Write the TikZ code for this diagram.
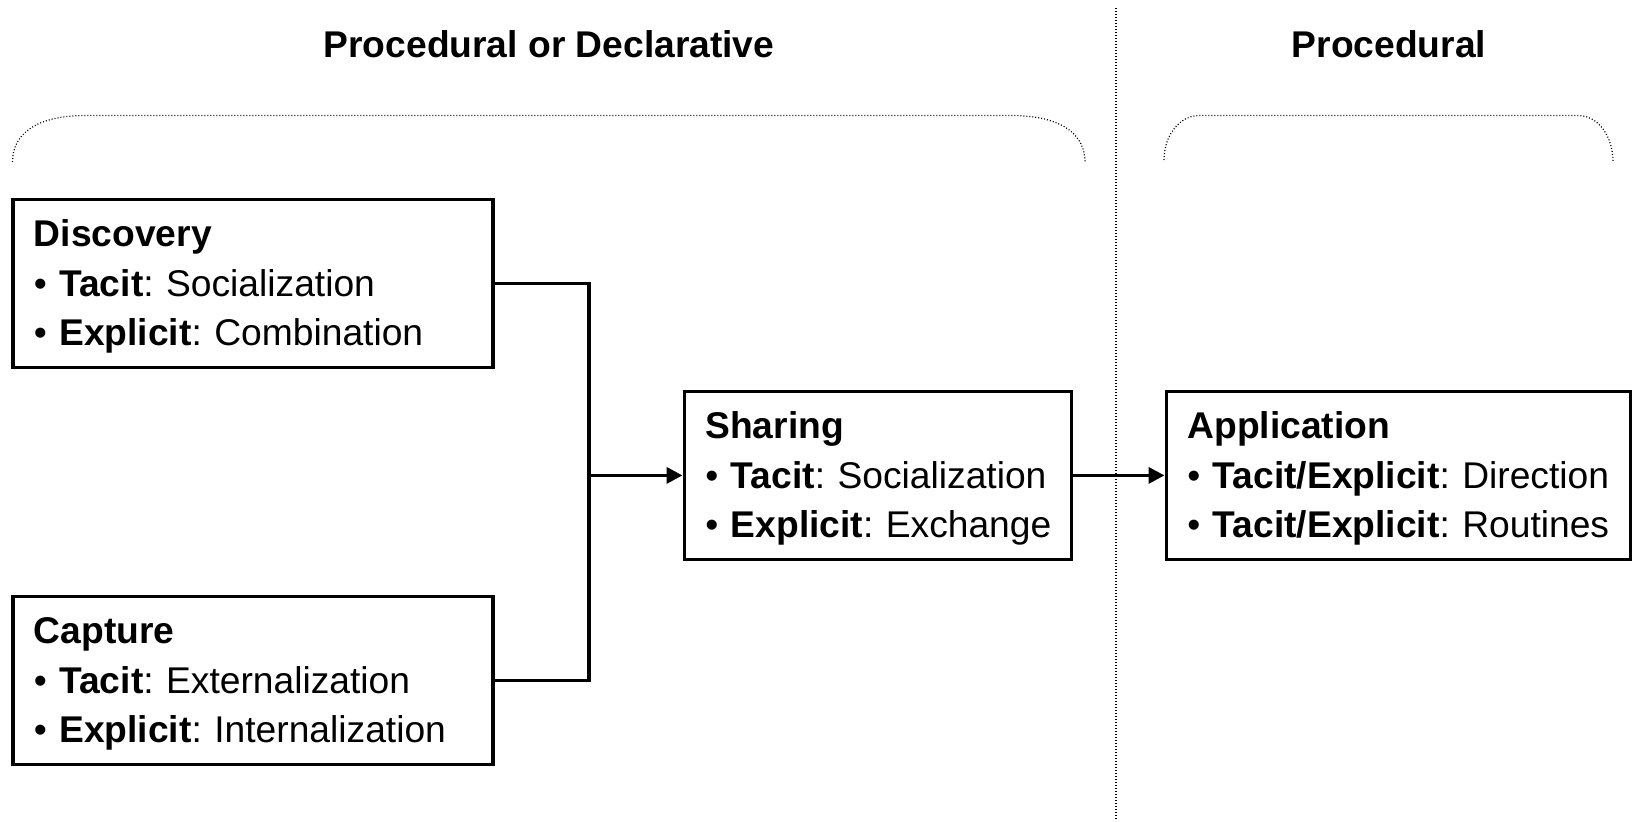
\documentclass[tikz,border=0pt]{standalone}
\usepackage{fontspec}
\setmainfont{Liberation Sans}
\usetikzlibrary{arrows.meta}
\frenchspacing
\newcommand{\bl}[2]{\mbox{• \textbf{#1}: #2}}
\newcommand{\hd}[1]{\rule{0pt}{16.5pt}\textbf{#1}}
\begin{document}
\begin{tikzpicture}[x=0.5pt,y=-0.5pt,
  box/.style={draw, line width=1.9pt, anchor=north west, align=left,
    inner xsep=10.5pt, inner ysep=0pt, minimum height=84pt, text width=#1,
    font=\fontsize{18.6pt}{24.75pt}\selectfont},
  conn/.style={line width=1.8pt},
  arr/.style={conn, -{Triangle[length=8pt,width=8pt]}},
  dots/.style={line width=0.6pt, dash pattern=on 0.5pt off 1pt},
  title/.style={font=\fontsize{18.6pt}{22pt}\selectfont\bfseries}]
\useasboundingbox (0,0) rectangle (1632,821);

% titles
\node[title] (t1) at (549,44) {Procedural or Declarative};
\node[title] (t2) at (1389,44) {Procedural};

% separator
\coordinate (sepT) at (1116,8);
\coordinate (sepB) at (1116,821);
\draw[dots] (sepT) -- (sepB);

% braces
\draw[dots] (12.5,162) .. controls (12.5,136) and (33,115.5) .. (86,115.5)
  -- (1011,115.5) .. controls (1064,115.5) and (1085,136) .. (1085,162);
\draw[dots] (1164,160) .. controls (1164,135) and (1180,115.5) .. (1199,115.5)
  -- (1578,115.5) .. controls (1598,115.5) and (1613,136) .. (1613,162);

% boxes
\node[box=219pt] (disc) at (11,197.5)
  {\hd{Discovery}\\ \bl{Tacit}{Socialization}\\ \bl{Explicit}{Combination}};
\node[box=219pt] (cap) at (11,594.5)
  {\hd{Capture}\\ \bl{Tacit}{Externalization}\\ \bl{Explicit}{Internalization}};
\node[box=172.5pt] (share) at (682.5,389.5)
  {\hd{Sharing}\\ \bl{Tacit}{Socialization}\\ \bl{Explicit}{Exchange}};
\node[box=211pt] (app) at (1164.5,389.5)
  {\hd{Application}\\ \bl{Tacit/Explicit}{Direction}\\ \bl{Tacit/Explicit}{Routines}};

% connectors
\coordinate (busx) at (589,0);
\coordinate (bus) at (share.west -| busx);
\draw[conn] (disc.east) -| (bus) |- (cap.east);
\draw[arr] (bus) -- (share.west);
\draw[arr] (share.east) -- (app.west);
\end{tikzpicture}
\end{document}
